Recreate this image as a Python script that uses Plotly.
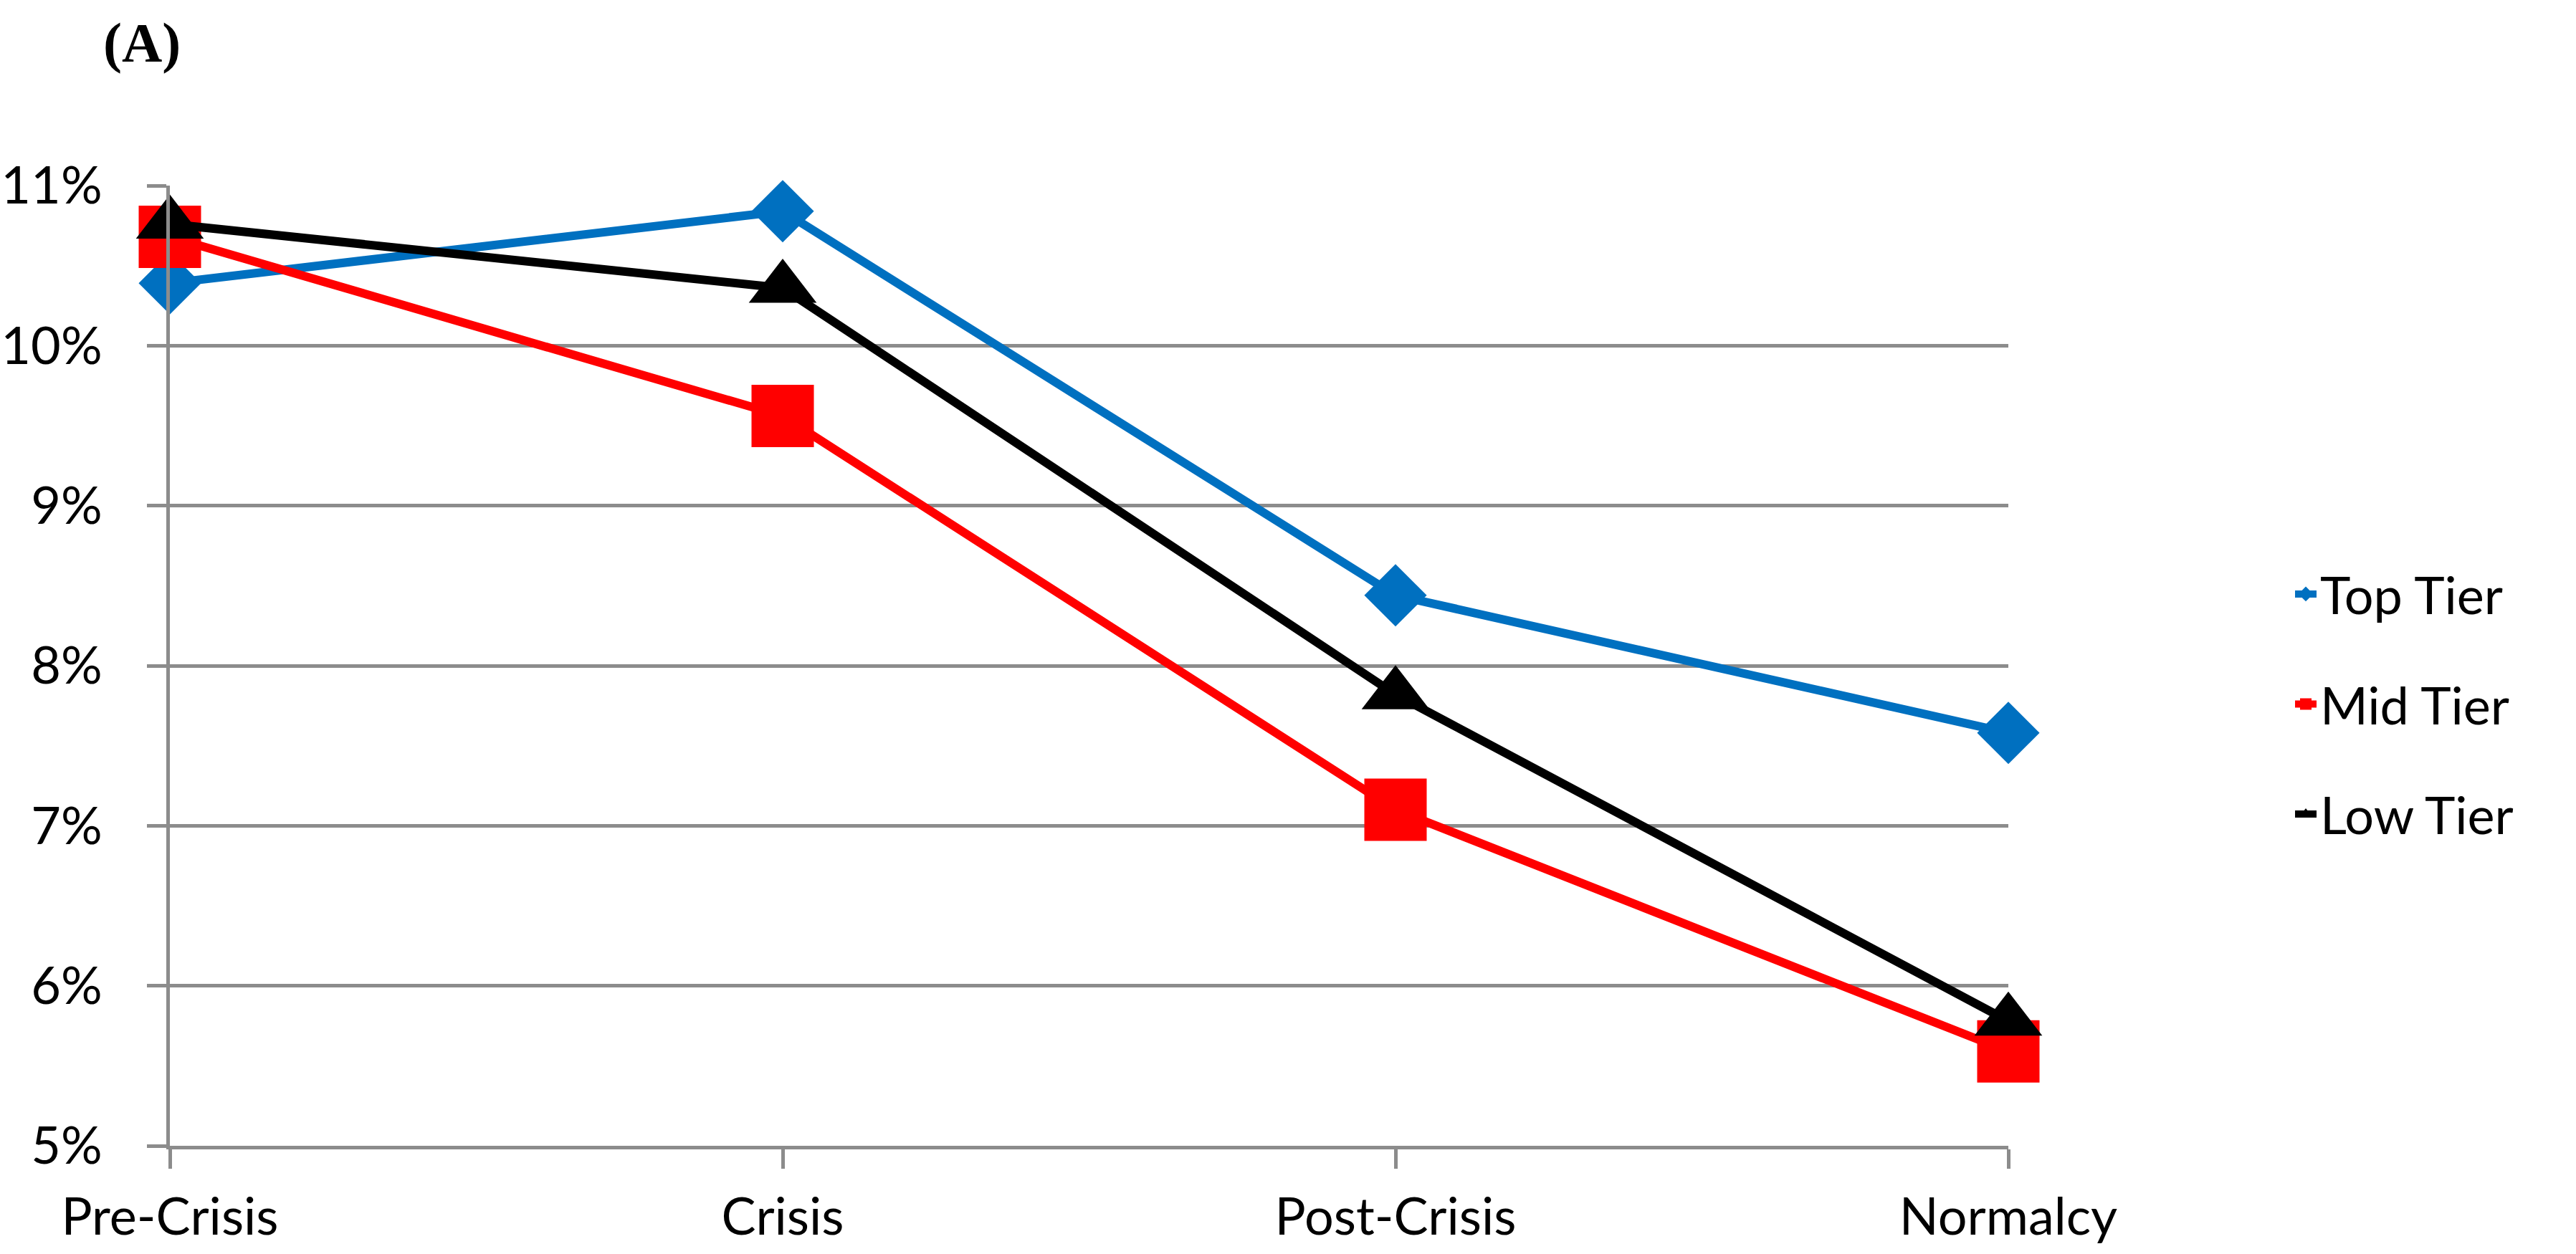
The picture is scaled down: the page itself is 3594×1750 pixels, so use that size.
import plotly.graph_objects as go

# ---- data ----
categories = ["Pre-Crisis", "Crisis", "Post-Crisis", "Normalcy"]
top_tier = [10.39, 10.84, 8.44, 7.58]
mid_tier = [10.68, 9.56, 7.10, 5.59]
low_tier = [10.76, 10.36, 7.82, 5.78]
y_tick_values = [5, 6, 7, 8, 9, 10, 11]
y_tick_labels = ["5%", "6%", "7%", "8%", "9%", "10%", "11%"]
series_names = ["Top Tier", "Mid Tier", "Low Tier"]
panel_label = "(A)"

GRID = "#8C8C8C"
FONT = "Lato, 'Open Sans', sans-serif"

styles = [
    dict(color="#0070C0", symbol="diamond", size=67),
    dict(color="#FF0000", symbol="square", size=87),
    dict(color="#000000", symbol="triangle-up", size=82),
]

fig = go.Figure()
for name, vals, st in zip(series_names, [top_tier, mid_tier, low_tier], styles):
    fig.add_trace(go.Scatter(
        x=categories, y=vals, name=name, mode="lines+markers",
        line=dict(color=st["color"], width=12),
        marker=dict(color=st["color"], symbol=st["symbol"], size=st["size"], line=dict(width=0)),
        cliponaxis=False, legendgroup=name,
    ))

fig.update_layout(
    template="none",
    width=3594, height=1750,
    margin=dict(l=237, r=792, t=259, b=151, autoexpand=False),
    paper_bgcolor="white", plot_bgcolor="white",
    font=dict(family=FONT, size=72, color="black"),
    showlegend=True,
    legend=dict(x=1.154, y=0.46, xanchor="left", yanchor="middle",
                font=dict(family=FONT, size=72, color="black"),
                tracegroupgap=57, itemsizing="trace", bgcolor="rgba(0,0,0,0)"),
    xaxis=dict(type="category", categoryorder="array", categoryarray=categories,
               range=[0, 3], showgrid=False, zeroline=False, automargin=False,
               showline=True, linecolor=GRID, linewidth=5,
               ticks="outside", ticklen=27, tickwidth=5, tickcolor=GRID,
               tickfont=dict(family=FONT, size=72, color="black"),
               ticklabelstandoff=6),
    yaxis=dict(range=[5, 11], tickvals=y_tick_values, ticktext=y_tick_labels,
               showgrid=True, gridcolor=GRID, gridwidth=5, zeroline=False, automargin=False,
               showline=True, linecolor=GRID, linewidth=5,
               ticks="outside", ticklen=27, tickwidth=5, tickcolor=GRID,
               tickfont=dict(family=FONT, size=72, color="black"),
               ticklabelstandoff=48),
    annotations=[dict(text="<b>" + panel_label + "</b>", xref="paper", yref="paper",
                      x=(198 - 237) / 2565, y=1 + (259 - 60) / 1340,
                      xanchor="center", yanchor="middle", showarrow=False,
                      font=dict(family="'Liberation Serif', 'Times New Roman', serif", size=78, color="black"))],
)

fig.write_html("out.html", config={"displayModeBar": False},
               post_script="document.body.style.margin='0';document.body.style.overflow='hidden';")
